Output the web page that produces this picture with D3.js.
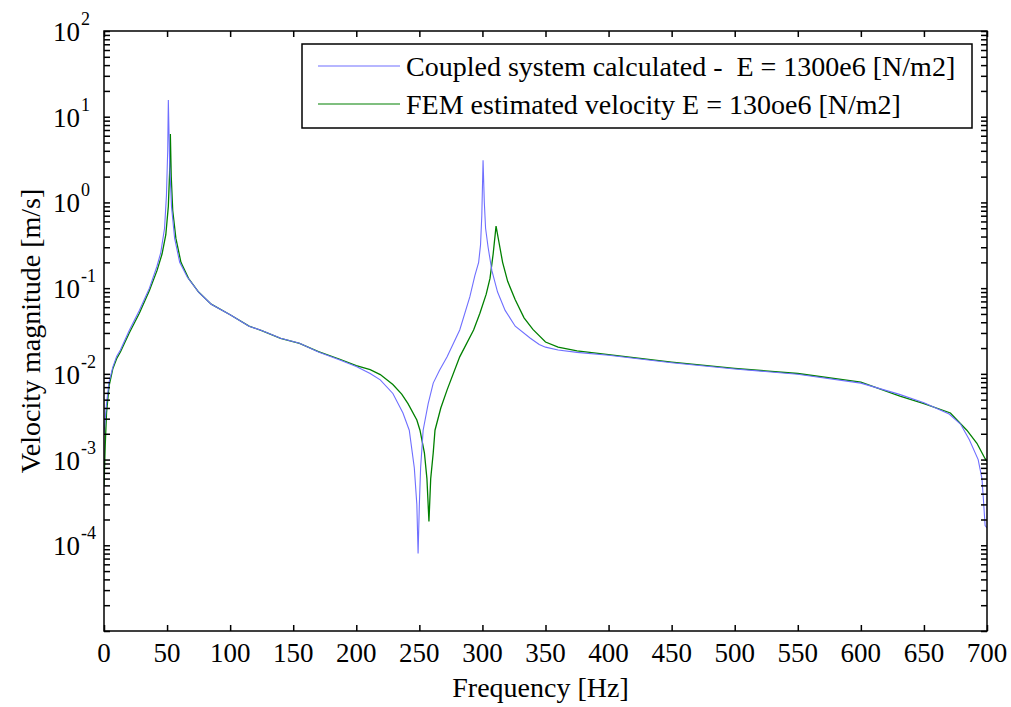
<!DOCTYPE html>
<html>
<head>
<meta charset="utf-8">
<script src="https://cdn.jsdelivr.net/npm/d3@7"></script>
<style>
  html, body { margin: 0; padding: 0; background: #fff; }
  svg text { font-family: 'Liberation Serif', 'Times New Roman', serif; fill: #000; white-space: pre; }
</style>
</head>
<body>
<svg id="chart" width="1011" height="707"></svg>
<script>
// Frequency response of the coupled system (analytic) and the FEM estimate.
const coupledFreq = [0, 1, 2, 4, 7, 10, 13, 20, 28, 36, 42, 45, 48, 49.5, 50.5, 51, 52, 53.5, 56, 60, 66, 75, 85, 100, 115, 125, 140, 155, 170, 187, 200, 211, 219, 229, 237, 242, 246, 248, 249, 250, 251, 253, 257, 261, 266, 272, 282, 290, 294, 297, 298.5, 299.5, 300.5, 301.5, 302.5, 304.5, 307.5, 312, 318, 326, 338, 345, 350, 360, 375, 400, 450, 500, 550, 600, 630, 650, 670, 679, 686, 693, 696, 697, 698.5, 700];
const coupledVel = [0.002, 0.003, 0.0045, 0.008, 0.012, 0.016, 0.019, 0.032, 0.055, 0.10, 0.18, 0.26, 0.50, 1.2, 4, 15.7, 3, 0.9, 0.38, 0.20, 0.135, 0.09, 0.065, 0.049, 0.036, 0.032, 0.026, 0.0227, 0.018, 0.0145, 0.0122, 0.0101, 0.0085, 0.0059, 0.0035, 0.0022, 0.0008, 0.0003, 0.00008, 0.0003, 0.0008, 0.0022, 0.0045, 0.0078, 0.011, 0.0158, 0.0325, 0.079, 0.14, 0.2, 0.32, 0.7, 3.1, 1.0, 0.5, 0.3, 0.16, 0.09, 0.055, 0.036, 0.026, 0.022, 0.0205, 0.019, 0.0178, 0.0165, 0.0135, 0.0114, 0.0099, 0.0078, 0.0058, 0.0046, 0.0034, 0.0026, 0.0017, 0.001, 0.0006, 0.00037, 0.00017, 0.00016];

const femFreq = [0, 1, 2, 4, 7, 10, 13, 20, 28, 36, 42, 46, 49, 51, 52, 52.6, 53.3, 54.5, 57, 61, 67, 75, 85, 100, 115, 125, 140, 155, 170, 187, 200, 211, 219, 229, 236, 241, 248, 250.5, 254, 256, 257.6, 259, 261, 262.4, 267, 272, 282, 293, 298, 303, 306, 308.5, 310.8, 313, 316, 320, 326, 333, 340, 350, 360, 375, 400, 450, 500, 550, 600, 631, 650, 671, 684, 692, 698.4, 700];
const femVel = [0.0005, 0.0015, 0.0035, 0.0072, 0.0115, 0.015, 0.018, 0.030, 0.051, 0.094, 0.16, 0.25, 0.42, 0.9, 2.2, 6.3, 2.0, 0.8, 0.38, 0.2, 0.13, 0.09, 0.065, 0.049, 0.036, 0.032, 0.026, 0.0227, 0.0182, 0.0148, 0.0125, 0.0112, 0.0098, 0.0075, 0.0058, 0.0045, 0.0029, 0.0022, 0.0012, 0.0006, 0.00019, 0.0006, 0.0012, 0.0022, 0.004, 0.0065, 0.0158, 0.0325, 0.051, 0.085, 0.13, 0.25, 0.53, 0.35, 0.2, 0.12, 0.073, 0.045, 0.033, 0.0235, 0.0205, 0.0185, 0.0168, 0.0137, 0.0116, 0.0101, 0.008, 0.0055, 0.0045, 0.0035, 0.0022, 0.00155, 0.00103, 0.00095];

const xTicks = [0, 50, 100, 150, 200, 250, 300, 350, 400, 450, 500, 550, 600, 650, 700];
const yDecadeExponents = [-4, -3, -2, -1, 0, 1, 2];
const legendLabels = ["Coupled system calculated -  E = 1300e6 [N/m2]", "FEM estimated velocity E = 130oe6 [N/m2]"];
const seriesColors = ["#6f6fff", "#008000"];

const svg = d3.select("#chart");
const L = 104, R = 987, T = 31, B = 631;

const x = d3.scaleLinear().domain([0, 700]).range([L, R]);
const y = d3.scaleLog().domain([1e-5, 1e2]).range([B, T]);

// clip region for the curves
svg.append("defs").append("clipPath").attr("id", "plotClip")
  .append("rect").attr("x", L).attr("y", T).attr("width", R - L).attr("height", B - T);

// curves
const line = d3.line().x(d => x(d[0])).y(d => y(d[1]));
const series = [
  d3.zip(coupledFreq, coupledVel),
  d3.zip(femFreq, femVel)
];
const g = svg.append("g").attr("clip-path", "url(#plotClip)");
g.append("path").datum(series[1]).attr("d", line)
  .attr("fill", "none").attr("stroke", seriesColors[1]).attr("stroke-width", 1.3);
g.append("path").datum(series[0]).attr("d", line)
  .attr("fill", "none").attr("stroke", seriesColors[0]).attr("stroke-width", 1.1);

// inward ticks on all four sides
const tickLen = 6;
const bottomAxis = d3.axisBottom(x).tickValues(xTicks).tickSizeInner(-tickLen).tickSizeOuter(0).tickFormat("");
const topAxis = d3.axisTop(x).tickValues(xTicks).tickSizeInner(-tickLen).tickSizeOuter(0).tickFormat("");
const minorY = [];
for (let e = -5; e < 2; e++) for (let m = 1; m <= 9; m++) minorY.push(m * Math.pow(10, e));
minorY.push(100);
const leftAxis = d3.axisLeft(y).tickValues(minorY).tickSizeInner(-tickLen).tickSizeOuter(0).tickFormat("");
const rightAxis = d3.axisRight(y).tickValues(minorY).tickSizeInner(-tickLen).tickSizeOuter(0).tickFormat("");

function styleAxis(sel) {
  sel.select(".domain").remove();
  sel.selectAll(".tick line").attr("stroke", "#000").attr("stroke-width", 1.5);
}
svg.append("g").attr("transform", `translate(0,${B})`).call(bottomAxis).call(styleAxis);
svg.append("g").attr("transform", `translate(0,${T})`).call(topAxis).call(styleAxis);
svg.append("g").attr("transform", `translate(${L},0)`).call(leftAxis).call(styleAxis);
svg.append("g").attr("transform", `translate(${R},0)`).call(rightAxis).call(styleAxis);

// frame
svg.append("rect").attr("x", L).attr("y", T).attr("width", R - L).attr("height", B - T)
  .attr("fill", "none").attr("stroke", "#000").attr("stroke-width", 1.5);

// x tick labels
svg.append("g").selectAll("text").data(xTicks).join("text")
  .attr("x", d => x(d)).attr("y", B + 31)
  .attr("text-anchor", "middle").attr("font-size", 27)
  .text(d => d);

// y tick labels: 10 with superscript exponent
const ylab = svg.append("g");
yDecadeExponents.forEach(d => {
  const yy = y(Math.pow(10, d));
  ylab.append("text").attr("x", 80).attr("y", yy + 10)
    .attr("text-anchor", "end").attr("font-size", 27).text("10");
  ylab.append("text").attr("x", 81).attr("y", yy - 6)
    .attr("font-size", 18).text(d);
});

// axis titles
svg.append("text").attr("x", (L + R) / 2 - 5).attr("y", 697)
  .attr("text-anchor", "middle").attr("font-size", 28).text("Frequency [Hz]");
svg.append("text").attr("transform", `translate(40,${(T + B) / 2}) rotate(-90)`)
  .attr("text-anchor", "middle").attr("font-size", 28).text("Velocity magnitude [m/s]");

// legend
const lg = svg.append("g");
lg.append("rect").attr("x", 302).attr("y", 44).attr("width", 670).attr("height", 84)
  .attr("fill", "#fff").attr("stroke", "#000").attr("stroke-width", 1.5);
const legendY = [66, 104];
legendLabels.forEach((lab, i) => {
  lg.append("line").attr("x1", 318).attr("x2", 400).attr("y1", legendY[i]).attr("y2", legendY[i])
    .attr("stroke", seriesColors[i]).attr("stroke-width", 1.2);
  lg.append("text").attr("x", 406).attr("y", legendY[i] + 10).attr("font-size", 28)
    .attr("xml:space", "preserve").text(lab);
});
</script>
</body>
</html>
